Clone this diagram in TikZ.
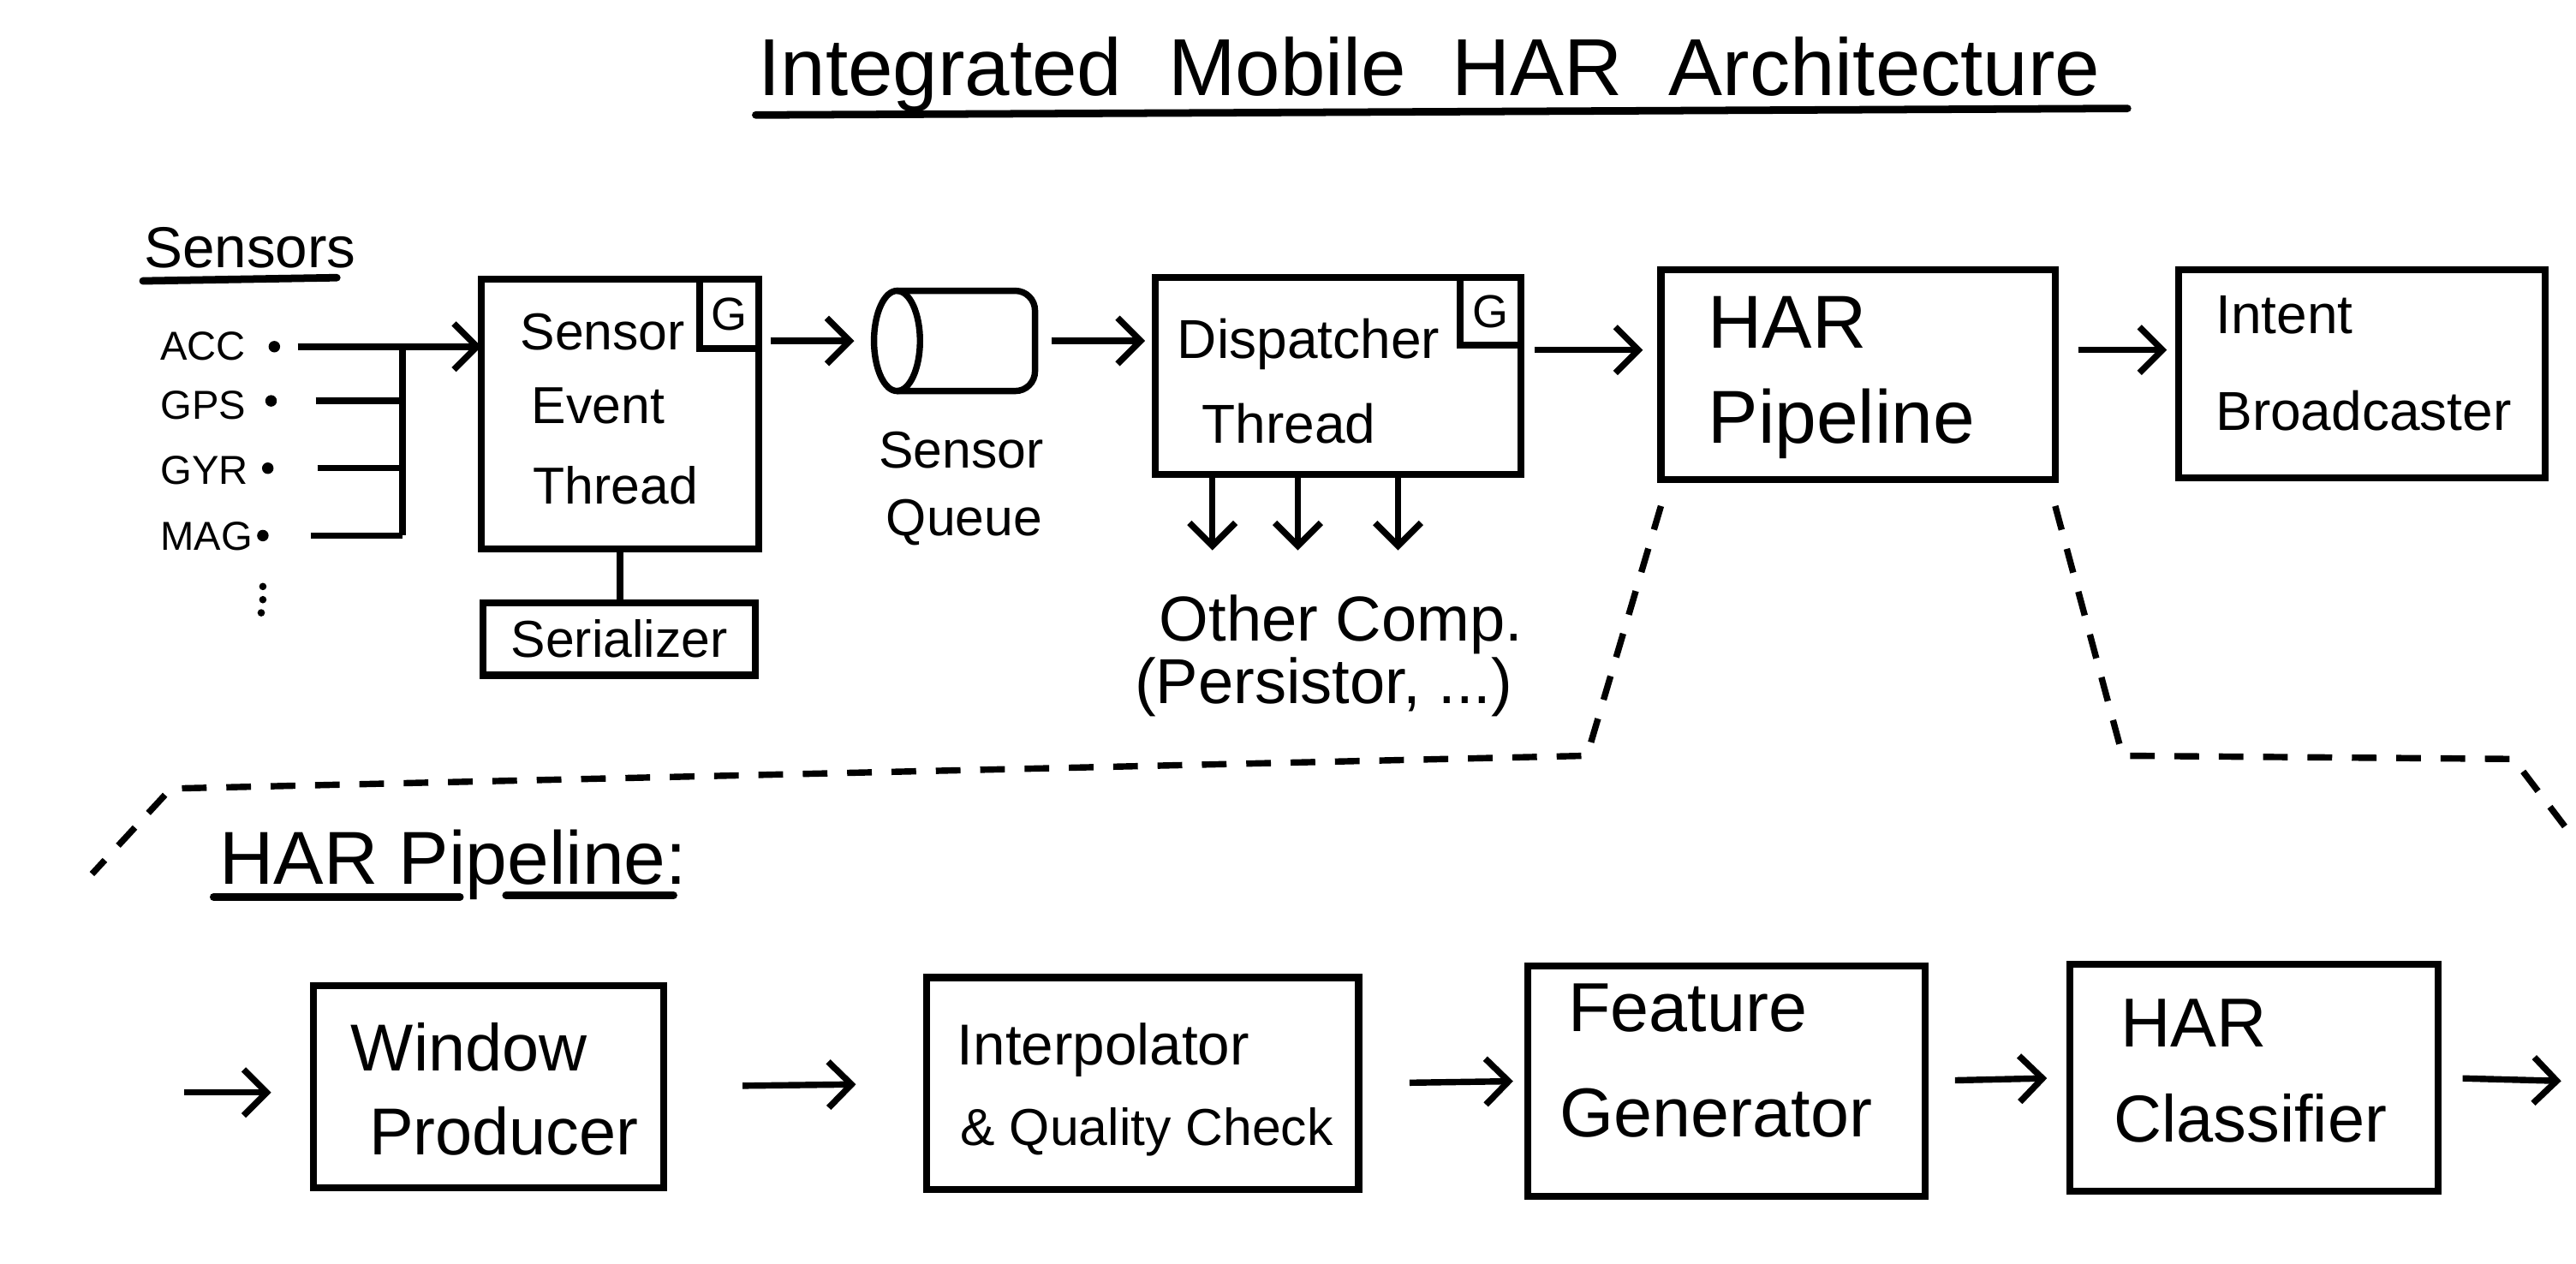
\documentclass[tikz,border=0pt]{standalone}
\usepackage{fontspec}
\setmainfont{Liberation Sans}
\usetikzlibrary{arrows.meta,calc}
\newcommand\myfs[1]{\fontsize{#1}{#1}\selectfont}
\begin{document}
\begin{tikzpicture}[x=0.1mm,y=-0.1mm,
 box/.style={draw, line width=1.2pt, inner sep=0pt, outer sep=0pt},
 txt/.style={inner sep=0pt, anchor=base west},
 ctxt/.style={inner sep=0pt, anchor=base},
 arr/.style={line width=1.1pt, -{Straight Barb[length=1.4mm,width=2.8mm]}},
 conn/.style={line width=1.1pt},
 bound/.style={line width=1.1pt, dash pattern=on 1.5mm off 1.2mm},
 uline/.style={line width=1.3pt, line cap=round},
 sdot/.style={circle, fill, inner sep=0pt, minimum size=0.7mm},
 vdot/.style={circle, fill, inner sep=0pt, minimum size=0.45mm},
]
\useasboundingbox[fill=white] (0,0) rectangle (1568,769);

% ---------- title ----------
\node[ctxt, font=\myfs{14}] (title) at (870,58) {Integrated\hspace{2.8mm}Mobile\hspace{2.8mm}HAR\hspace{2.8mm}Architecture};
\coordinate (tul) at (460,70);
\coordinate (tur) at (1295,66);
\draw[uline] (tul) -- (tur);

% ---------- sensors ----------
\node[txt, font=\myfs{10}] (sensors) at (87,163) {Sensors};
\coordinate (sul) at (87,171);
\coordinate (sur) at (205,169);
\draw[uline] (sul) -- (sur);

\node[txt, font=\myfs{7}] (acc) at (97,219) {ACC};
\node[txt, font=\myfs{7}] (gps) at (97,255) {GPS};
\node[txt, font=\myfs{7}] (gyr) at (97,295) {GYR};
\node[txt, font=\myfs{7}] (mag) at (97,335) {MAG};
\node[sdot] (accdot) at (167,211) {};
\node[sdot] (gpsdot) at (165,244) {};
\node[sdot] (gyrdot) at (163,285) {};
\node[sdot] (magdot) at (160,326) {};
\node[vdot] (vd1) at (160,357) {};
\node[vdot] (vd2) at (160,365) {};
\node[vdot] (vd3) at (159,373) {};

% ---------- sensor event thread ----------
\node[box, minimum width=16.9mm, minimum height=16.4mm] (sensbox) at (377.5,252) {};
\node[box, minimum width=3.6mm, minimum height=4.2mm, font=\myfs{8}] (gsens) at (444,191) {G};
\node[txt, font=\myfs{9}] (t1) at (316,213) {Sensor};
\node[txt, font=\myfs{9}] (t2) at (323,258) {Event};
\node[txt, font=\myfs{9}] (t3) at (324,307) {Thread};

\node[box, minimum width=16.6mm, minimum height=4.4mm, font=\myfs{9}] (serial) at (377,389) {Serializer};

\coordinate (bustop) at (245,211);
\coordinate (busbot) at (245,326);
\draw[conn] (bustop) -- (busbot);
\draw[arr, shorten <=1mm] (accdot) -- (accdot -| sensbox.west);
\draw[conn, shorten <=2.3mm] (gpsdot) -- (gpsdot -| bustop);
\draw[conn, shorten <=2.6mm] (gyrdot) -- (gyrdot -| bustop);
\draw[conn, shorten <=2.5mm] (magdot) -- (magdot -| bustop);
\draw[conn] (sensbox.south) -- (sensbox.south |- serial.north);

% ---------- sensor queue ----------
\node[inner sep=0pt, outer sep=0pt, minimum width=9.8mm, minimum height=6.1mm] (queue) at (581,207.5) {};
\draw[conn, rounded corners=1.2mm] ([xshift=1.4mm]queue.north west) -- (queue.north east) -- (queue.south east) -- ([xshift=1.4mm]queue.south west);
\draw[conn] ([xshift=1.4mm]queue.west) ellipse [x radius=1.4mm, y radius=3.05mm];
\node[ctxt, font=\myfs{9}] (q1) at (585,285) {Sensor};
\node[ctxt, font=\myfs{9}] (q2) at (587,326) {Queue};

\draw[arr, shorten <=0.7mm, shorten >=1.2mm] (sensbox.east |- queue.west) -- (queue.west);

% ---------- dispatcher ----------
\node[box, minimum width=22.3mm, minimum height=12mm] (disp) at (814.5,229) {};
\node[box, minimum width=3.7mm, minimum height=4.1mm, font=\myfs{8}] (gdisp) at (907.5,189.5) {G};
\node[txt, font=\myfs{9.5}] (d1) at (716,218) {Dispatcher};
\node[txt, font=\myfs{9.5}] (d2) at (731,270) {Thread};

\draw[arr, shorten <=1mm, shorten >=0.6mm] (queue.east) -- (queue.east -| disp.west);

\draw[arr] ($(disp.south)+(-7.65mm,0)$) -- ++(0,-4.6mm);
\draw[arr] ($(disp.south)+(-2.45mm,0)$) -- ++(0,-4.6mm);
\draw[arr] ($(disp.south)+(3.65mm,0)$) -- ++(0,-4.6mm);

\node[txt, font=\myfs{11}] (oc1) at (705,390) {Other Comp.};
\node[txt, font=\myfs{11}] (oc2) at (690,428) {(Persistor, ...)};

% ---------- HAR pipeline / intent ----------
\node[box, minimum width=24mm, minimum height=12.8mm] (harp) at (1131,228) {};
\node[txt, font=\myfs{13}] (h1) at (1039,212) {HAR};
\node[txt, font=\myfs{13}] (h2) at (1039,270) {Pipeline};

\node[box, minimum width=22.3mm, minimum height=12.7mm] (intent) at (1437.5,227.5) {};
\node[txt, font=\myfs{9.5}] (i1) at (1348,203) {Intent};
\node[txt, font=\myfs{9.5}] (i2) at (1348,262) {Broadcaster};

\draw[arr, shorten <=0.8mm, shorten >=1.1mm] ([yshift=1.6mm]disp.east) -- ([yshift=1.6mm]disp.east -| harp.west);
\draw[arr, shorten <=1.4mm, shorten >=0.7mm] ([yshift=1.5mm]harp.east) -- ([yshift=1.5mm]harp.east -| intent.west);

% ---------- zoom boundary ----------
\coordinate (L1) at (966,460);
\coordinate (L2) at (104,480);
\coordinate (L3) at (56,532);
\draw[bound] ([yshift=-1.6mm]harp.south west) -- (L1) -- (L2) -- (L3);
\coordinate (R1) at (1292,460);
\coordinate (R2) at (1530,462);
\coordinate (R3) at (1568,512);
\draw[bound] ([yshift=-1.6mm]harp.south east) -- (R1) -- (R2) -- (R3);

% ---------- HAR pipeline detail ----------
\node[txt, font=\myfs{13}] (hp) at (133,538) {HAR Pipeline:};
\coordinate (hu1) at (130,546);
\coordinate (hu2) at (280,546);
\coordinate (hu3) at (308,545);
\coordinate (hu4) at (410,545);
\draw[uline] (hu1) -- (hu2);
\draw[uline] (hu3) -- (hu4);

\node[box, minimum width=21.3mm, minimum height=12.3mm] (window) at (297.5,661.5) {};
\node[txt, font=\myfs{11.5}] (w1) at (213,652) {Window};
\node[txt, font=\myfs{11.5}] (w2) at (224,703) {Producer};

\node[box, minimum width=26.3mm, minimum height=12.9mm] (interp) at (695.5,659.5) {};
\node[txt, font=\myfs{10}] (ip1) at (582,648) {Interpolator};
\node[txt, font=\myfs{9}] (ip2) at (584,697) {\& Quality Check};

\node[box, minimum width=24.2mm, minimum height=14mm] (feature) at (1051,658) {};
\node[txt, font=\myfs{12}] (f1) at (954,628) {Feature};
\node[txt, font=\myfs{12}] (f2) at (949,692) {Generator};

\node[box, minimum width=22.4mm, minimum height=13.8mm] (classif) at (1372,656) {};
\node[txt, font=\myfs{12}] (c1) at (1290,637) {HAR};
\node[txt, font=\myfs{11.5}] (c2) at (1286,695) {Classifier};

\coordinate (pin) at (112,665);
\coordinate (pout) at (1559,658);
\draw[arr, shorten >=2.6mm] (pin) -- (pin -| window.west);
\draw[arr, shorten <=4.8mm, shorten >=4.3mm] (window.east) -- (interp.west);
\draw[arr, shorten <=3.1mm, shorten >=0.9mm] (interp.east) -- (feature.west);
\draw[arr, shorten <=1.8mm, shorten >=1.4mm] (feature.east) -- (classif.west);
\draw[arr, shorten <=1.5mm] (classif.east) -- (pout);
\end{tikzpicture}
\end{document}
